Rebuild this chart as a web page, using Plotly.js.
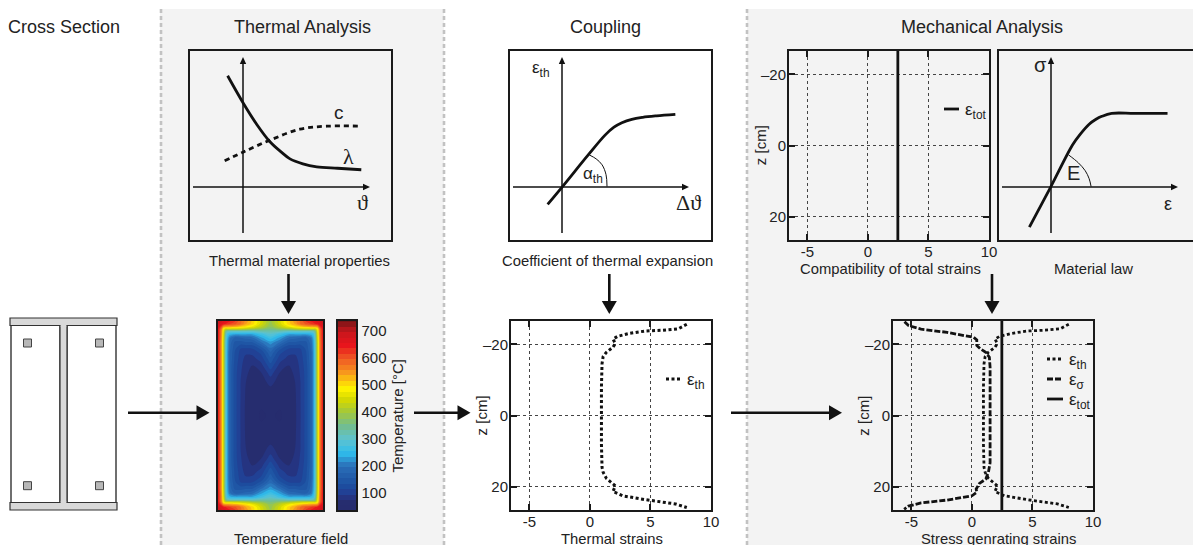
<!DOCTYPE html>
<html><head><meta charset="utf-8">
<script src="https://cdn.plot.ly/plotly-3.0.1.min.js"></script>
<style>html,body{margin:0;padding:0;background:#fff}#c{width:1193px;height:545px}</style>
</head><body><div id="c"></div>
<script>
// ---------- data ----------
const lambdaX=[-16,0,14,27,38,47,60,74,95,119];
const lambdaY=[112,84,62,45,35,28,23,20,18.5,17];
const heatCapX=[-19,0,27,57,84,119];
const heatCapY=[26,35,47,58,61,61];
const alphaCurveX=[-15,0,26,43,52,60,70,81,95,114];
const alphaCurveY=[-18,0,32,52,60,64.5,68,70,71.5,73];
const alphaArcX=[27,34,40,44,45];
const alphaArcY=[32,28,22,12,0];
const lawX=[-22,0,22,30,39,46,52,62,85,119];
const lawY=[-41,0,42,53,63,68,71,74,74,74];
const lawArcX=[18,28,35,39,41];
const lawArcY=[32,24,16,8,0];
const strainTicks=[-5,0,5,10];
const strainTickText=['-5','0','5','10'];
const zTicks=[-20,0,20];
const zTickText=['–20','0','20'];
const totalStrain=[2.47,2.47];
const totalZ=[-26.6,26.6];
const thermalStrain=[8.0,7.3,5.98,4.6,3.26,2.3,1.9,2.1,1.9,1.36,1.09,1.0,0.95,0.93,0.95,1.0,1.09,1.36,2.1,1.9,2.7,4.6,7.07,8.0];
const thermalZ=[-25.7,-24.4,-24,-23.8,-23.1,-22.3,-21.5,-20.3,-19.2,-17.8,-16.6,-14.6,-8.1,0,8.1,14.6,16,17.7,19.8,21.4,22.6,23.7,24.9,25.9];
const stressStrain=[-5.57,-5.24,-4.2,-2.04,0.14,0.4,0.4,0.68,1.14,1.44,1.5,1.52,1.5,1.36,1.14,0.62,0.35,0.4,0,-2.04,-4.2,-5.24,-5.6];
const stressZ=[-26.4,-25.3,-24.3,-23.4,-22,-21.3,-19.7,-18.8,-17.8,-16.4,-13.6,0,13.3,16,17.9,19.1,20.7,21.6,22.6,23.8,24.6,25.5,26.4];
// temperature field: one quarter of the symmetric section (px from edge, deg C)
const fieldX=[0,3,5.5,7.5,9.5,12,17,23,28,35,44,53.5];
const fieldY=[0,3,6,8,10,13,17,22,28,32,38,45,52,62,72,95.5];
const fieldT=[
[690,680,670,660,650,640,620,580,550,510,450,390],
[680,665,645,635,625,615,600,575,540,505,445,385],
[660,620,540,530,530,530,520,505,490,465,420,375],
[650,590,480,440,440,440,440,430,420,400,380,355],
[650,580,470,370,330,320,320,320,320,320,330,330],
[650,580,460,340,270,250,240,240,240,240,270,300],
[650,575,450,330,250,200,170,175,180,190,230,265],
[645,570,440,320,240,185,150,145,150,150,190,225],
[645,570,440,320,235,180,140,115,112,115,140,190],
[645,570,440,320,230,175,135,108,98,100,120,170],
[645,570,440,320,230,175,132,104,90,88,105,150],
[645,570,440,320,230,170,128,100,85,75,88,128],
[645,570,440,320,230,170,125,98,80,68,75,105],
[645,570,440,320,230,170,125,95,76,62,65,82],
[645,570,440,320,230,170,125,95,74,60,58,65],
[645,570,440,320,230,170,125,94,72,58,54,56]];
const colorVals=[34,76,92,130,200,250,300,350,400,450,490,550,600,650,700,740];
const colorHex=['#262c6e','#262e70','#243a90','#1c4fa0','#2a6fb8','#2fbdec','#5fc3cf','#72bd90','#a2c83c','#d6d900','#fff200','#f7941e','#ef5a24','#e8141c','#c8161c','#7a1416'];
const tempTicks=[100,200,300,400,500,600,700];

// ---------- helpers ----------
const W=1193,H=545,INK='#1a1a1a',FONT='"Liberation Sans", Arial, sans-serif';
const px=x=>x/W, py=y=>(H-y)/H;
const dom=(a,b)=>[px(a+1),px(b-1)], domY=(t,b)=>[py(b-1),py(t+1)];
const shapes=[],ann=[];
function rect(x0,y0,x1,y1,fill,lc,lw,layer){shapes.push({type:'rect',xref:'paper',yref:'paper',x0:px(x0),x1:px(x1),y0:py(y0),y1:py(y1),fillcolor:fill,line:{color:lc||fill,width:lw===undefined?0:lw},layer:layer||'above'});}
function seg(x0,y0,x1,y1,c,w,d,layer){shapes.push({type:'line',xref:'paper',yref:'paper',x0:px(x0),x1:px(x1),y0:py(y0),y1:py(y1),line:{color:c,width:w,dash:d||'solid'},layer:layer||'above'});}
function arrow(x0,y0,x1,y1,w,len,half){
  const dx=Math.sign(x1-x0),dy=Math.sign(y1-y0);
  seg(x0,y0,x1-dx*len*0.8,y1-dy*len*0.8,'#111',w);
  const bx=x1-dx*len,by=y1-dy*len;
  const p=`M${px(x1)},${py(y1)} L${px(bx+dy*half)},${py(by+dx*half)} L${px(bx-dy*half)},${py(by-dx*half)} Z`;
  shapes.push({type:'path',xref:'paper',yref:'paper',path:p,fillcolor:'#111',line:{width:0},layer:'above'});
}
function text(t,x,y,size,anchor,opt){ann.push(Object.assign({text:t,xref:'paper',yref:'paper',x:px(x),y:py(y),xanchor:anchor||'center',yanchor:'middle',showarrow:false,font:{family:FONT,size:size||15,color:'#222'}},opt||{}));}
function schemAxis(d){return {domain:d,showline:true,mirror:true,linewidth:2,linecolor:INK,showgrid:false,zeroline:false,showticklabels:false,ticks:'',fixedrange:true};}
function strainAxis(d,anchor){return {domain:d,anchor:anchor,range:[-6.52,10],tickmode:'array',tickvals:strainTicks,ticktext:strainTickText,
  ticks:'inside',ticklen:6,tickwidth:2,tickcolor:INK,showline:true,mirror:'ticks',linewidth:2,linecolor:INK,ticklabelstandoff:-3,
  showgrid:true,gridcolor:'#444',gridwidth:1,griddash:'3px,3px',zeroline:false,tickangle:0,
  tickfont:{family:FONT,size:15,color:'#222'}};}
function zAxis(d,anchor){return {domain:d,anchor:anchor,range:[26.6,-26.6],tickmode:'array',tickvals:zTicks,ticktext:zTickText,
  ticks:'inside',ticklen:6,tickwidth:2,tickcolor:INK,showline:true,mirror:'ticks',linewidth:2,linecolor:INK,ticklabelstandoff:-2,
  showgrid:true,gridcolor:'#444',gridwidth:1,griddash:'3px,3px',zeroline:false,
  tickfont:{family:FONT,size:15,color:'#222'}};}
const line=(name,x,y,xa,ya,w,dash,shape)=>({type:'scatter',mode:'lines',name:name,x:x,y:y,xaxis:xa,yaxis:ya,showlegend:false,hoverinfo:'skip',
  line:{color:'#111',width:w,dash:dash||'solid',shape:shape||'linear',smoothing:shape?1:undefined}});

// ---------- panels and dividers ----------
rect(160,9,444,545,'#f3f3f3',null,0,'below');
rect(747,9,1193,545,'#f3f3f3',null,0,'below');
[161,444,747].forEach(x=>seg(x,9,x,545,'#c2c2c2',2.6,'4px,3px','below'));

// ---------- cross section ----------
rect(11,325,60,503,'#ffffff','#333',1.4);
rect(67,325,116,503,'#ffffff','#333',1.4);
rect(10,318,117,325.5,'#d9d9d9','#333',1.2);
rect(10,502.5,117,510,'#d9d9d9','#333',1.2);
rect(60,325.5,67,502.5,'#d9d9d9','#333',1.2);
seg(60.6,325.5,66.4,325.5,'#d9d9d9',2.2);
seg(60.6,502.5,66.4,502.5,'#d9d9d9',2.2);
[[27.5,343],[99.5,343],[27.5,485.7],[99.5,485.7]].forEach(c=>rect(c[0]-4,c[1]-4,c[0]+4,c[1]+4,'#b8b8b8','#444',1));

// ---------- flow arrows ----------
arrow(128,412.7,209.5,412.7,2.6,13,7.5);
arrow(414,412.7,470.5,412.7,2.6,13,7.5);
arrow(731,412.7,842,412.7,2.6,13,7.5);
arrow(288.5,274,288.5,314,2.6,13,7.5);
arrow(609.3,274,609.3,314,2.6,13,7.5);
arrow(992,274,992,314,2.6,13,7.5);

// ---------- schematic axes ----------
arrow(243,233,243,57,1.5,7,3.2);
arrow(193,187,370,187,1.5,7,3.2);
arrow(562,233,562,57,1.5,7,3.2);
arrow(513,187,689,187,1.5,7,3.2);
arrow(1051,233,1051,57,1.5,7,3.2);
arrow(1002,187,1178,187,1.5,7,3.2);

// ---------- texts ----------
const T=18,S=14.8;
text('Cross Section',6,27,T,'left');
text('Thermal Analysis',302,27,T);
text('Coupling',605,27,T);
text('Mechanical Analysis',982,27,T);
text('Thermal material properties',299.5,261,S);
text('Coefficient of thermal expansion',607.5,261,S);
text('Compatibility of total strains',890,269,S);
text('Material law',1093,269,S);
text('Temperature field',290.7,539,S);
text('Thermal strains',611.7,539,S);
text('Stress genrating strains',998,539,S);
text('z [cm]',481.7,415.7,15,'center',{textangle:-90});
text('z [cm]',760.5,145.7,15,'center',{textangle:-90});
text('z [cm]',864,415.7,15,'center',{textangle:-90});
text('Temperature [°C]',397,415.5,15,'center',{textangle:-90});
const SYM='"Liberation Serif", "DejaVu Serif", serif';
const sym={font:{family:SYM,size:22,color:'#222'}};
text('c',339,113,19);
text('λ',348,157,22,'center',sym);
text('ϑ',362,203,22,'center',sym);
const eps=(t,x,y,a)=>text('ε<sub>'+t+'</sub>',x,y,17,a||'left');
eps('th',541,69,'center');
text('α<sub>th</sub>',593,175,17);
text('Δϑ',688,203,22,'center',sym);
text('σ',1040,65,20);
text('E',1073,173,20);
text('ε',1168,204,18);
// line keys
eps('tot',963,111);
seg(944,109,959,109,'#111',2.8);
eps('th',685,381);
seg(666,379,682,379,'#111',2.8,'3px,2.5px');
eps('th',1067,361);
seg(1047,359,1063,359,'#111',2.8,'3px,2.5px');
eps('σ',1067,381);
seg(1047,379,1063,379,'#111',2.8,'6px,2px');
eps('tot',1067,401);
seg(1047,399,1063,399,'#111',2.8);

// ---------- temperature field (mirrored quarter) ----------
const X=fieldX.concat(fieldX.slice(0,-1).reverse().map(v=>107-v));
const Y=fieldY.concat(fieldY.slice(0,-1).reverse().map(v=>191-v));
const halfRows=fieldT.map(r=>r.concat(r.slice(0,-1).reverse()));
const Z=halfRows.concat(halfRows.slice(0,-1).reverse());
const cMin=colorVals[0],cMax=colorVals[colorVals.length-1];
const colorscale=colorVals.map((v,i)=>[(v-cMin)/(cMax-cMin),colorHex[i]]);

const traces=[
 line('lambda',lambdaX,lambdaY,'x','y',2.8,'solid','spline'),
 line('c',heatCapX,heatCapY,'x','y',2.8,'5px,4px','spline'),
 line('alpha arc',alphaArcX,alphaArcY,'x2','y2',1,'solid','spline'),
 line('thermal expansion',alphaCurveX,alphaCurveY,'x2','y2',2.8,'solid','spline'),
 line('E arc',lawArcX,lawArcY,'x4','y4',1,'solid','spline'),
 line('material law',lawX,lawY,'x4','y4',2.8,'solid','spline'),
 line('total strains',totalStrain,totalZ,'x3','y3',2.8),
 {type:'contour',x:X,y:Y,z:Z,xaxis:'x5',yaxis:'y5',zmin:cMin,zmax:cMax,zauto:false,colorscale:colorscale,hoverinfo:'skip',
  contours:{coloring:'fill',showlines:false,start:35,end:740,size:20},line:{width:0},
  colorbar:{thickness:20,thicknessmode:'pixels',len:191,lenmode:'pixels',x:px(337),xanchor:'left',xpad:0,y:py(511),yanchor:'bottom',ypad:0,
    outlinewidth:2,outlinecolor:INK,tickmode:'array',tickvals:tempTicks,ticks:'',ticklen:0,tickfont:{family:FONT,size:15,color:'#222'}}},
 line('thermal strains',thermalStrain,thermalZ,'x6','y6',3,'3px,2.5px'),
 line('thermal strains',thermalStrain,thermalZ,'x7','y7',2.8,'3px,2.5px'),
 line('stress strains',stressStrain,stressZ,'x7','y7',2.8,'6px,2px'),
 line('total strains',totalStrain,totalZ,'x7','y7',2.8)
];

const layout={width:W,height:H,margin:{l:0,r:0,t:0,b:0,autoexpand:false},paper_bgcolor:'#fff',plot_bgcolor:'rgba(0,0,0,0)',showlegend:false,hovermode:false,
 font:{family:FONT,size:15,color:'#222'},shapes:shapes,annotations:ann,
 xaxis: Object.assign(schemAxis(dom(189,392)),{anchor:'y',range:[-54,149]}),
 yaxis: Object.assign(schemAxis(domY(50,241)),{anchor:'x',range:[-54,137]}),
 xaxis2:Object.assign(schemAxis(dom(509,712)),{anchor:'y2',range:[-53,150]}),
 yaxis2:Object.assign(schemAxis(domY(50,241)),{anchor:'x2',range:[-54,137]}),
 xaxis3:strainAxis(dom(788,990),'y3'),
 yaxis3:zAxis(domY(50,241),'x3'),
 xaxis4:Object.assign(schemAxis(dom(998,1196)),{anchor:'y4',range:[-53,145]}),
 yaxis4:Object.assign(schemAxis(domY(50,241)),{anchor:'x4',range:[-54,137]}),
 xaxis5:Object.assign(schemAxis(dom(217,324)),{anchor:'y5',range:[0,107]}),
 yaxis5:Object.assign(schemAxis(domY(320,511)),{anchor:'x5',range:[191,0]}),
 xaxis6:strainAxis(dom(510,712),'y6'),
 yaxis6:zAxis(domY(320,511),'x6'),
 xaxis7:strainAxis(dom(892,1094),'y7'),
 yaxis7:zAxis(domY(320,511),'x7')
};
Plotly.newPlot('c',traces,layout,{displayModeBar:false,staticPlot:true});
</script></body></html>
